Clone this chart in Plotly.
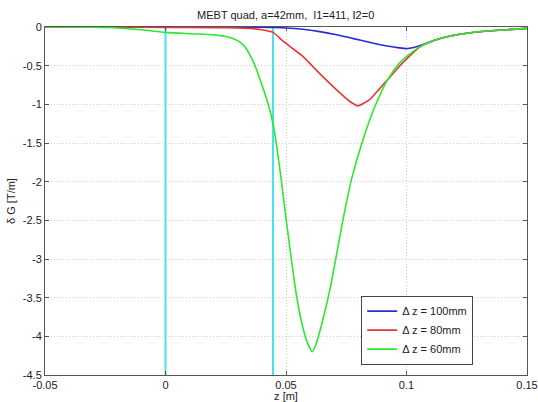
import plotly.graph_objects as go

# ---- data ----
z_100 = [-0.05, 0.0, 0.03, 0.04, 0.045, 0.05, 0.057, 0.064, 0.071, 0.078, 0.085, 0.092,
         0.097, 0.1, 0.103, 0.106, 0.11, 0.115, 0.12, 0.125, 0.13, 0.14, 0.15]
g_100 = [0.0, 0.0, -0.002, -0.004, -0.007, -0.012, -0.03, -0.06, -0.10, -0.15, -0.20, -0.245,
         -0.27, -0.28, -0.265, -0.235, -0.19, -0.14, -0.105, -0.08, -0.062, -0.038, -0.018]

z_80 = [-0.05, -0.02, 0.0, 0.02, 0.03, 0.035, 0.04, 0.0446, 0.0487, 0.052, 0.057, 0.0639,
        0.0709, 0.0764, 0.0798, 0.0847, 0.0885, 0.0922, 0.097, 0.1005, 0.1054, 0.11, 0.115,
        0.12, 0.125, 0.13, 0.14, 0.15]
g_80 = [0.0, -0.003, -0.005, -0.008, -0.013, -0.02, -0.035, -0.07, -0.18, -0.26, -0.38, -0.60,
        -0.81, -0.96, -1.02, -0.94, -0.81, -0.68, -0.51, -0.40, -0.26, -0.19, -0.14,
        -0.105, -0.08, -0.062, -0.038, -0.018]

z_60 = [-0.05, -0.03, -0.02, -0.01, 0.0, 0.01, 0.02, 0.025, 0.028, 0.031, 0.033, 0.035, 0.037,
        0.039, 0.041, 0.043, 0.0448, 0.0465, 0.048, 0.050, 0.0522, 0.0545, 0.0565, 0.0585,
        0.0609, 0.0625, 0.0645, 0.0684, 0.0736, 0.0771, 0.0819, 0.0874, 0.0922, 0.097,
        0.1005, 0.1054, 0.11, 0.115, 0.12, 0.125, 0.13, 0.14, 0.15]
g_60 = [0.0, -0.004, -0.012, -0.035, -0.07, -0.087, -0.102, -0.122, -0.15, -0.2, -0.26, -0.36,
        -0.49, -0.66, -0.84, -1.04, -1.28, -1.62, -1.97, -2.47, -3.0, -3.5, -3.82, -4.05,
        -4.2, -4.1, -3.88, -3.37, -2.5, -1.98, -1.46, -0.99, -0.68, -0.47,
        -0.37, -0.26, -0.19, -0.14, -0.105, -0.08, -0.062, -0.038, -0.018]

series_names = ["\u0394 z = 100mm", "\u0394 z = 80mm", "\u0394 z = 60mm"]
series_colors = ["#2b2bd6", "#e8353a", "#2ee82e"]

marker_z = [0.0, 0.0446]   # cyan vertical lines
y_limits = [-4.5, 0.0]

x_ticks = [-0.05, 0.0, 0.05, 0.1, 0.15]
x_labels = ["-0.05", "0", "0.05", "0.1", "0.15"]
y_ticks = [-4.5, -4.0, -3.5, -3.0, -2.5, -2.0, -1.5, -1.0, -0.5, 0.0]
y_labels = ["-4.5", "-4", "-3.5", "-3", "-2.5", "-2", "-1.5", "-1", "-0.5", "0"]

fig = go.Figure()

for zm in marker_z:
    fig.add_trace(go.Scatter(x=[zm, zm], y=y_limits, mode="lines",
                             line=dict(color="#45e3ea", width=2),
                             showlegend=False, hoverinfo="skip"))

for zs, gs, name, col in zip([z_100, z_80, z_60], [g_100, g_80, g_60], series_names, series_colors):
    fig.add_trace(go.Scatter(x=zs, y=gs, mode="lines", name=name,
                             line=dict(color=col, width=1.6, shape="spline", smoothing=0.5)))

axis_common = dict(
    showline=True, linecolor="#555555", linewidth=1, mirror="ticks",
    ticks="inside", ticklen=4, tickcolor="#555555",
    showgrid=True, gridcolor="#cfcfcf", griddash="1px,2px", gridwidth=1,
    zeroline=False, tickfont=dict(size=11, color="#222222"), automargin=False,
)

fig.update_layout(
    width=538, height=402,
    margin=dict(l=45, r=11, t=27, b=27),
    paper_bgcolor="white", plot_bgcolor="white",
    font=dict(family="Liberation Sans, Arial, sans-serif", size=11, color="#222222"),
    title=dict(text="MEBT quad, a=42mm,  I1=411, I2=0", x=0.531, xanchor="center",
               y=0.963, yanchor="middle", font=dict(size=11)),
    xaxis=dict(range=[-0.05, 0.15], tickvals=x_ticks, ticktext=x_labels,
               title=dict(text="z [m]", standoff=2, font=dict(size=11)), **axis_common),
    yaxis=dict(range=[-4.5, 0.0], tickvals=y_ticks, ticktext=y_labels,
               title=dict(text="\u03b4 G [T/m]", standoff=4, font=dict(size=11)), **axis_common),
    legend=dict(x=0.656, y=0.129, xanchor="left", yanchor="middle",
                bgcolor="white", bordercolor="#444444", borderwidth=1,
                font=dict(size=11), tracegroupgap=0, itemwidth=30),
    showlegend=True,
)

fig.write_html("out.html")
